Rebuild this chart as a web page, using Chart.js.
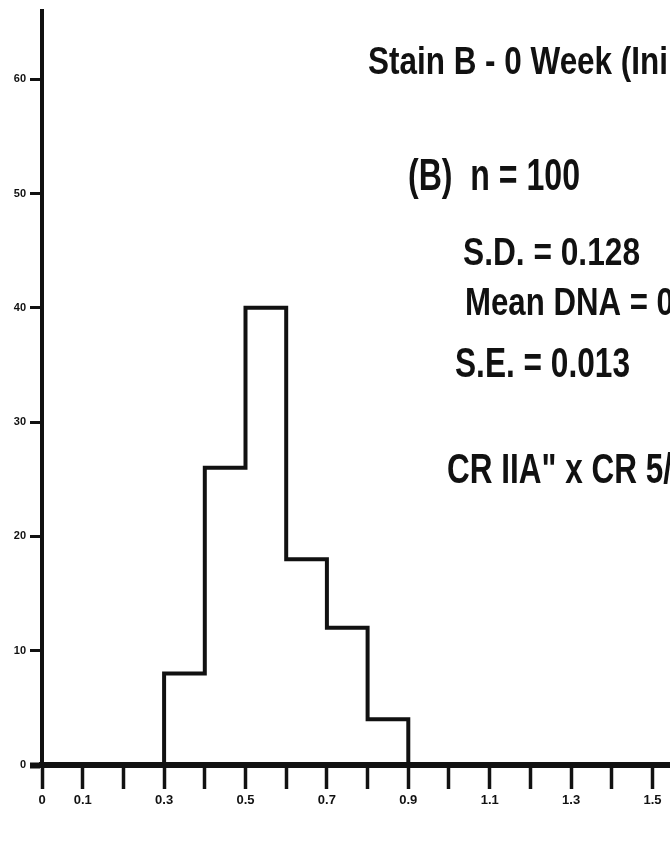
<!DOCTYPE html>
<html>
<head>
<meta charset="utf-8">
<script src="https://cdn.jsdelivr.net/npm/chart.js@4.4.0/dist/chart.umd.min.js"></script>
<style>
html,body{margin:0;padding:0;background:#fff;}
#wrap{width:670px;height:852px;}
</style>
</head>
<body>
<div id="wrap"><canvas id="myChart" width="670" height="852"></canvas></div>
<script>
'use strict';

// histogram bins (relative DNA content) and cell counts
const binEdges=[0.3,0.4,0.5,0.6,0.7,0.8,0.9];
const counts=[8,26,40,18,12,4];

// axis ticks
const xTicks=[0,0.1,0.2,0.3,0.4,0.5,0.6,0.7,0.8,0.9,1.0,1.1,1.2,1.3,1.4,1.5];
const xTickLabels=['0','0.1','','0.3','','0.5','','0.7','','0.9','','1.1','','1.3','','1.5'];
const yTicks=[0,10,20,30,40,50,60];

// text block on the right (cut off by the page edge like the scan)
const noteLines=['Stain B - 0 Week (Ini','(B)  n = 100','S.D. = 0.128','Mean DNA = 0','S.E. = 0.013','CR IIA" x CR 5/'];

const ink='#111';

// outline of the histogram as one stepped line
let points=[{x:binEdges[0],y:0}];
for(let i=0;i<counts.length;i++){
  points.push({x:binEdges[i],y:counts[i]});
}
points.push({x:binEdges[binEdges.length-1],y:counts[counts.length-1]});
points.push({x:binEdges[binEdges.length-1],y:0});

const noteStyle=[
  {x:368,y:74,size:39,w:300},
  {x:408,y:190,size:45,w:172},
  {x:463,y:265,size:39,w:177},
  {x:465,y:315,size:39,sx:0.8},
  {x:455,y:377,size:42,w:175},
  {x:447,y:483,size:42,sx:0.75}
];

const notesPlugin={
  id:'notes',
  afterDraw(chart){
    const ctx=chart.ctx;
    ctx.save();
    ctx.fillStyle=ink;
    ctx.textBaseline='alphabetic';
    for(let i=0;i<noteLines.length;i++){
      const s=noteStyle[i];
      ctx.font='bold '+s.size+'px "Liberation Sans", Arial, sans-serif';
      const w=ctx.measureText(noteLines[i]).width;
      const sx=s.w ? s.w/w : s.sx;
      ctx.save();
      ctx.translate(s.x,s.y);
      ctx.scale(sx,1);
      ctx.fillText(noteLines[i],0,0);
      ctx.restore();
    }
    ctx.restore();
  }
};

const ctx=document.getElementById('myChart').getContext('2d');
const chart=new Chart(ctx,{
  type:'line',
  data:{
    datasets:[{
      data:points,
      stepped:'before',
      borderColor:ink,
      borderWidth:4,
      borderJoinStyle:'miter',
      pointRadius:0,
      fill:false
    }]
  },
  options:{
    responsive:false,
    animation:false,
    layout:{padding:{left:0,right:0,top:6,bottom:27}},
    plugins:{legend:{display:false},tooltip:{enabled:false}},
    scales:{
      x:{
        type:'linear',
        min:0,
        max:1.543,
        afterBuildTicks:(scale)=>{scale.ticks=xTicks.map(v=>({value:v}));},
        afterFit:(scale)=>{scale.height=60;},
        border:{display:true,color:ink,width:6},
        grid:{drawOnChartArea:false,drawTicks:true,tickLength:24,tickWidth:3.5,tickColor:ink,color:ink},
        ticks:{
          autoSkip:false,
          maxRotation:0,
          padding:4,
          color:ink,
          font:{family:'Liberation Sans',weight:'bold',size:13},
          callback:(v,i)=>xTickLabels[i]
        }
      },
      y:{
        min:0,
        max:66,
        afterBuildTicks:(scale)=>{scale.ticks=yTicks.map(v=>({value:v}));},
        afterFit:(scale)=>{scale.width=42;},
        border:{display:true,color:ink,width:4},
        grid:{drawOnChartArea:false,drawTicks:true,tickLength:12,tickWidth:(c)=>c.tick && c.tick.value===0 ? 6 : 3,tickColor:ink,color:ink},
        ticks:{
          padding:4,
          color:ink,
          font:{family:'Liberation Sans',weight:'bold',size:11},
          callback:(v)=>String(v)
        }
      }
    }
  },
  plugins:[notesPlugin]
});
</script>
</body>
</html>
